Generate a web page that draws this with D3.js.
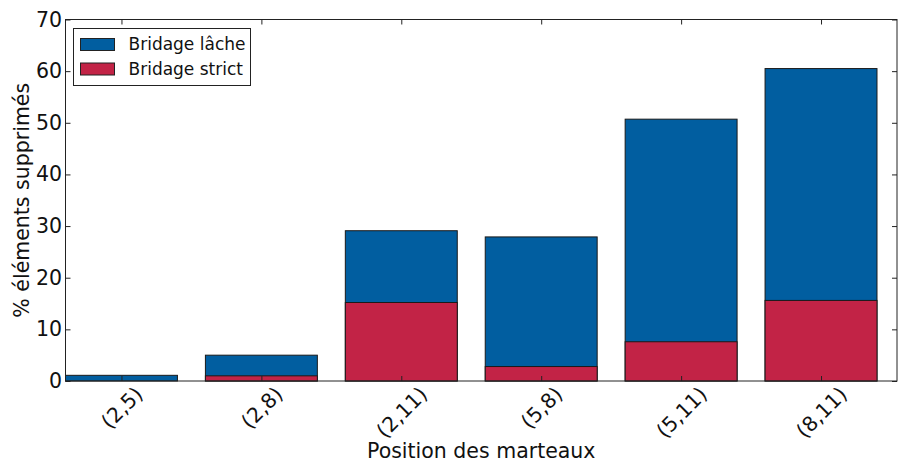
<!DOCTYPE html>
<html>
<head>
<meta charset="utf-8">
<script src="https://cdn.jsdelivr.net/npm/d3@7"></script>
<style>
  html, body { margin: 0; padding: 0; background: #fff; }
  svg { display: block; }
  svg text { font-family: "DejaVu Sans", sans-serif; }
</style>
</head>
<body>
<svg id="chart" width="898" height="464"></svg>
<script>
// Hammer positions and percentage of deleted elements per bridging mode
const categories = ["(2,5)", "(2,8)", "(2,11)", "(5,8)", "(5,11)", "(8,11)"];
const lache = [1.1, 5.0, 29.1, 27.9, 50.7, 60.5];
const strict = [0.0, 1.0, 15.2, 2.8, 7.6, 15.6];
const yTicks = [0, 10, 20, 30, 40, 50, 60, 70];
const seriesNames = ["Bridage lâche", "Bridage strict"];
const colors = ["#015ea0", "#c22346"];

const svg = d3.select("#chart");
const plotLeft = 65.5, plotRight = 897, plotTop = 19.5, plotBottom = 381;
const tickFont = 20.5;

const x = d3.scaleLinear().domain([-0.4, 5.543]).range([plotLeft, plotRight]);
const y = d3.scaleLinear().domain([0, 70]).range([plotBottom, plotTop]);
const barW = x(0.8) - x(0);

const g = svg.append("g");

// bars: loose bridging behind, strict bridging overlaid from zero
[lache, strict].forEach((vals, s) => {
  g.selectAll(null).data(vals).enter().append("rect")
    .attr("x", (d, i) => x(i - 0.4))
    .attr("y", d => y(d))
    .attr("width", barW)
    .attr("height", d => y(0) - y(d))
    .attr("fill", colors[s])
    .attr("stroke", "#1a1a1a")
    .attr("stroke-width", 1);
});

// frame
svg.append("rect")
  .attr("x", plotLeft).attr("y", plotTop)
  .attr("width", plotRight - plotLeft).attr("height", plotBottom - plotTop)
  .attr("fill", "none").attr("stroke", "#222").attr("stroke-width", 1);

// axes with inward ticks
const xAxis = d3.axisBottom(x).tickValues(d3.range(categories.length))
  .tickFormat(i => categories[i]).tickSizeInner(-5).tickSizeOuter(0);
const xg = svg.append("g").attr("transform", `translate(0,${plotBottom})`).call(xAxis);
xg.select(".domain").remove();
xg.selectAll(".tick line").attr("stroke", "#222");
// rotated labels: centred under the tick, rotated box hanging from a fixed top
xg.selectAll(".tick text")
  .attr("font-size", tickFont).attr("fill", "#111")
  .attr("text-anchor", "middle")
  .attr("dy", "0.35em").attr("y", 0)
  .each(function () {
    const w = this.getComputedTextLength();
    const h = tickFont * 0.9;
    const half = (w + h) * Math.SQRT1_2 / 2;
    d3.select(this).attr("transform", `translate(0,${3 + half}) rotate(-45)`);
  });

const xTop = d3.axisTop(x).tickValues(d3.range(categories.length))
  .tickFormat("").tickSizeInner(-5).tickSizeOuter(0);
const xtg = svg.append("g").attr("transform", `translate(0,${plotTop})`).call(xTop);
xtg.select(".domain").remove();
xtg.selectAll(".tick line").attr("stroke", "#222");

const yAxis = d3.axisLeft(y).tickValues(yTicks).tickSizeInner(-5).tickSizeOuter(0);
const yg = svg.append("g").attr("transform", `translate(${plotLeft},0)`).call(yAxis);
yg.select(".domain").remove();
yg.selectAll(".tick line").attr("stroke", "#222");
yg.selectAll(".tick text").attr("font-size", tickFont).attr("fill", "#111").attr("x", -3.5);

const yRight = d3.axisRight(y).tickValues(yTicks).tickFormat("").tickSizeInner(-5).tickSizeOuter(0);
const yrg = svg.append("g").attr("transform", `translate(${plotRight},0)`).call(yRight);
yrg.select(".domain").remove();
yrg.selectAll(".tick line").attr("stroke", "#222");

// axis titles
svg.append("text")
  .attr("x", (plotLeft + plotRight) / 2).attr("y", 458)
  .attr("text-anchor", "middle").attr("font-size", 20.5).attr("fill", "#111")
  .text("Position des marteaux");
svg.append("text")
  .attr("transform", `translate(29,${(plotTop + plotBottom) / 2}) rotate(-90)`)
  .attr("text-anchor", "middle").attr("font-size", 20.5).attr("fill", "#111")
  .text("% éléments supprimés");

// legend
const lg = svg.append("g").attr("transform", "translate(73.5,28.5)");
lg.append("rect").attr("width", 177).attr("height", 57)
  .attr("fill", "#fff").attr("stroke", "#222").attr("stroke-width", 1);
seriesNames.forEach((name, i) => {
  lg.append("rect").attr("x", 7).attr("y", 10 + i * 24.5).attr("width", 34).attr("height", 12)
    .attr("fill", colors[i]).attr("stroke", "#222").attr("stroke-width", 1);
  lg.append("text").attr("x", 55).attr("y", 16 + i * 24.5).attr("dy", "0.35em")
    .attr("font-size", 17).attr("fill", "#111").text(name);
});
</script>
</body>
</html>
